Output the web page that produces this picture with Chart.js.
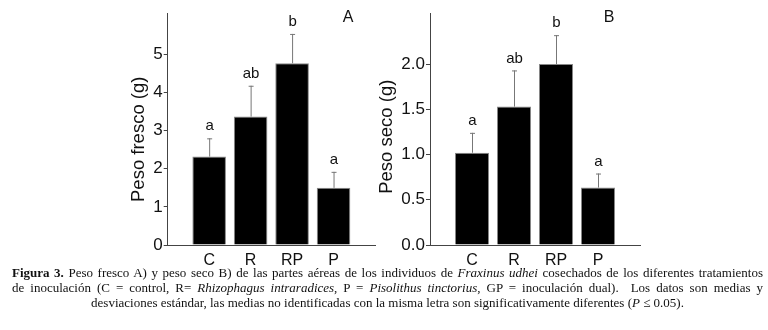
<!DOCTYPE html>
<html>
<head>
<meta charset="utf-8">
<script src="https://cdn.jsdelivr.net/npm/chart.js@4.4.1/dist/chart.umd.min.js"></script>
<style>
  html, body { margin: 0; padding: 0; background: #fff; }
  body { width: 768px; height: 330px; position: relative; overflow: hidden; }
  .panel { position: absolute; top: 0; height: 275px; }
  #wrapA { left: 0; width: 380px; }
  #wrapB { left: 370px; width: 398px; }
  .caption {
    position: absolute; left: 12px; top: 265px; width: 751px;
    font-family: "Liberation Serif", "Times New Roman", serif;
    font-size: 13px; line-height: 15px; color: #111;
  }
  .caption div { text-align: justify; text-align-last: justify; white-space: nowrap; }
  .caption div.last { text-align: center; text-align-last: center; }
</style>
</head>
<body>
<div class="panel" id="wrapA"><canvas id="chartA"></canvas></div>
<div class="panel" id="wrapB"><canvas id="chartB"></canvas></div>
<div class="caption">
  <div><b>Figura 3.</b> Peso fresco A) y peso seco B) de las partes aéreas de los individuos de <i>Fraxinus udhei</i> cosechados de los diferentes tratamientos</div>
  <div>de inoculación (C = control, R= <i>Rhizophagus intraradices</i>, P = <i>Pisolithus tinctorius</i>, GP = inoculación dual).&nbsp; Los datos son medias y</div>
  <div class="last">desviaciones estándar, las medias no identificadas con la misma letra son significativamente diferentes (<i>P</i> ≤ 0.05).</div>
</div>
<script>
'use strict';

// --- data ---
const TREATMENTS = ['C', 'R', 'RP', 'P'];

const FRESH_MEAN = [2.32, 3.37, 4.77, 1.50];
const FRESH_SD   = [0.48, 0.81, 0.77, 0.42];
const FRESH_LETTERS = ['a', 'ab', 'b', 'a'];
const FRESH_TICKS = [0, 1, 2, 3, 4, 5];

const DRY_MEAN = [1.02, 1.53, 2.00, 0.635];
const DRY_SD   = [0.22, 0.40, 0.32, 0.155];
const DRY_LETTERS = ['a', 'ab', 'b', 'a'];
const DRY_TICKS = [0, 0.5, 1.0, 1.5, 2.0];

const AXIS = '#444';
const FONT = 'Arial, "Liberation Sans", sans-serif';

// error bars + significance letters + panel label
const extras = {
  id: 'extras',
  afterDatasetsDraw(chart, args, opts) {
    const { ctx, scales: { x, y }, chartArea } = chart;
    ctx.save();
    opts.mean.forEach((m, i) => {
      const px = x.getPixelForValue(i + 1);
      const yBar = y.getPixelForValue(m);
      const yTop = y.getPixelForValue(m + opts.sd[i]);
      ctx.strokeStyle = '#777';
      ctx.lineWidth = 1;
      ctx.beginPath();
      ctx.moveTo(px + 0.5, yBar);
      ctx.lineTo(px + 0.5, yTop);
      ctx.moveTo(px - 2, yTop + 0.5);
      ctx.lineTo(px + 3, yTop + 0.5);
      ctx.stroke();
      ctx.fillStyle = '#111';
      ctx.font = '15px ' + FONT;
      ctx.textAlign = 'center';
      ctx.textBaseline = 'middle';
      ctx.fillText(opts.letters[i], px + 0.5, yTop - 12);
    });
    ctx.font = '16px ' + FONT;
    ctx.textAlign = 'center';
    ctx.textBaseline = 'middle';
    ctx.fillText(opts.panel, chartArea.right + opts.panelDx, chartArea.top + 5);
    ctx.restore();
  }
};

function makeChart(id, mean, sd, letters, yTicks, yMax, title, fmt, pad, yWidth, panel, panelDx) {
  const c = document.getElementById(id);
  return new Chart(c.getContext('2d'), {
    type: 'bar',
    data: {
      datasets: [{
        data: mean.map((v, i) => ({ x: i + 1, y: v })),
        backgroundColor: '#000',
        borderColor: '#888',
        borderWidth: 1,
        categoryPercentage: 0.81,
        barPercentage: 1,
      }],
    },
    options: {
      responsive: true,
      maintainAspectRatio: false,
      animation: false,
      layout: { padding: pad },
      plugins: {
        legend: { display: false },
        tooltip: { enabled: false },
        extras: { mean, sd, letters, panel, panelDx },
      },
      scales: {
        x: {
          type: 'linear',
          offset: false,
          min: 0,
          max: 5,
          afterBuildTicks: s => { s.ticks = TREATMENTS.map((_, i) => ({ value: i + 1 })); },
          afterFit: s => { s.height = 30; },
          grid: { display: false, drawTicks: false, tickLength: 0 },
          border: { color: AXIS, width: 1 },
          ticks: {
            callback: v => TREATMENTS[v - 1],
            color: '#111',
            padding: 6,
            maxRotation: 0,
            font: { family: FONT, size: 16 },
          },
        },
        y: {
          min: 0,
          max: yMax,
          afterBuildTicks: s => { s.ticks = yTicks.map(v => ({ value: v })); },
          afterFit: s => { s.width = yWidth; },
          grid: { drawOnChartArea: false, tickLength: 4, tickColor: AXIS },
          border: { color: AXIS, width: 1 },
          ticks: {
            callback: fmt,
            color: '#111',
            padding: 1,
            font: { family: FONT, size: 17 },
          },
          title: {
            display: true,
            text: title,
            color: '#111',
            padding: 0,
            font: { family: FONT, size: 18.5 },
          },
        },
      },
    },
    plugins: [extras],
  });
}

// trailing spaces nudge the rotated title a little lower, as in the original
makeChart('chartA', FRESH_MEAN, FRESH_SD, FRESH_LETTERS, FRESH_TICKS, 6.09,
  'Peso fresco (g)    ', v => String(v),
  { left: 128, right: 5, top: 13, bottom: 0 }, 39.7, 'A', -27);

makeChart('chartB', DRY_MEAN, DRY_SD, DRY_LETTERS, DRY_TICKS, 2.565,
  'Peso seco (g)   ', v => v.toFixed(1),
  { left: 6, right: 128, top: 13, bottom: 0 }, 54, 'B', -31);
</script>
</body>
</html>
